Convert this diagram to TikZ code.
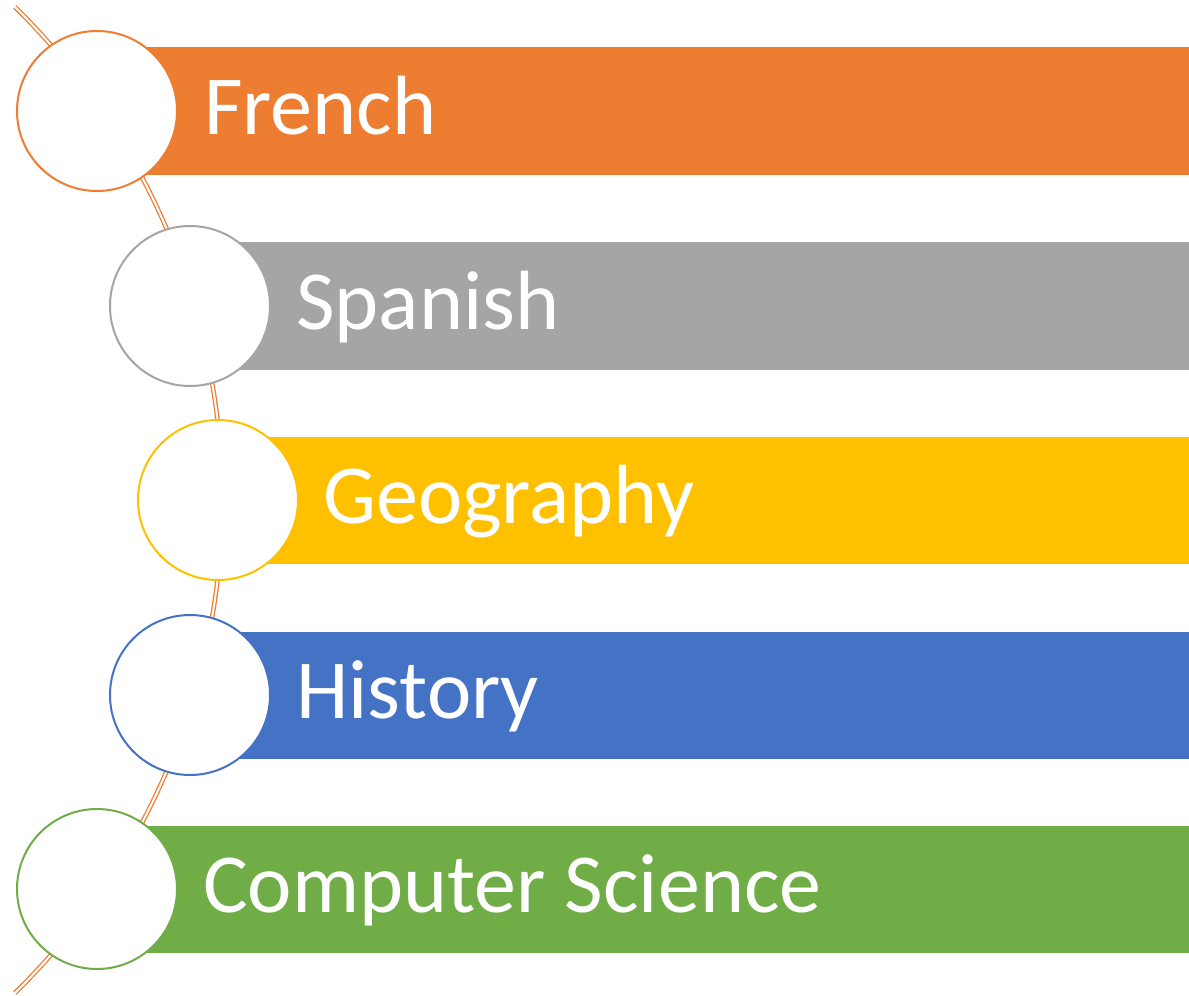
\documentclass[tikz,border=0pt]{standalone}
\usepackage{fontspec}
\setmainfont{Carlito}
\definecolor{cOrange}{HTML}{ED7D31}
\definecolor{cGray}{HTML}{A5A5A5}
\definecolor{cGold}{HTML}{FFC000}
\definecolor{cBlue}{HTML}{4472C4}
\definecolor{cGreen}{HTML}{70AD47}
\begin{document}
\begin{tikzpicture}[x=1pt,y=-1pt,
  barlabel/.style={anchor=base west,text=white,inner sep=0pt,font=\fontsize{84}{100}\selectfont},
  dot/.style={circle,fill=white,line width=2pt,minimum size=160pt,inner sep=0pt},
  arcline/.style={draw=cOrange,line width=1.3pt,double=white,double distance=2pt}]
\useasboundingbox (0,0) rectangle (1189,996);
% arc
\draw[arcline] plot[domain=-45.6:45.6,samples=90] ({-467.8+690*cos(\x)},{500+690*sin(\x)});
% bars
\fill[cOrange] (97,47) rectangle (1189,175);
\fill[cGray] (190,242) rectangle (1189,370);
\fill[cGold] (218,437) rectangle (1189,564);
\fill[cBlue] (190,632) rectangle (1189,759);
\fill[cGreen] (97,826) rectangle (1189,953);
% circles
\node[dot,draw=cOrange] (c1) at (97,111) {};
\node[dot,draw=cGray] (c2) at (190,306) {};
\node[dot,draw=cGold] (c3) at (218,500) {};
\node[dot,draw=cBlue] (c4) at (190,695) {};
\node[dot,draw=cGreen] (c5) at (97,889) {};
% labels
\node[barlabel] (t1) at (204,134) {French};
\node[barlabel] (t2) at (296,329) {Spanish};
\node[barlabel] (t3) at (323,523) {Geography};
\node[barlabel] (t4) at (296,718) {History};
\node[barlabel] (t5) at (203,912) {Computer Science};
\end{tikzpicture}
\end{document}
